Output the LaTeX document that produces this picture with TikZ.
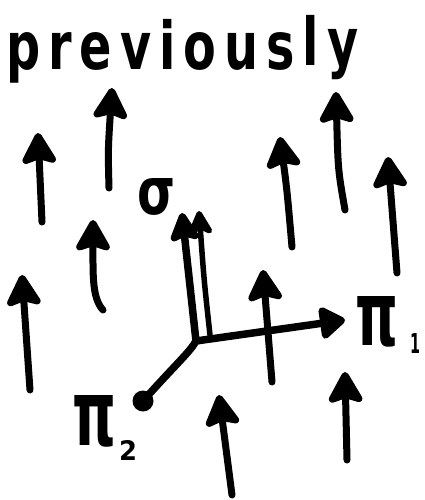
\documentclass[tikz,border=0pt]{standalone}
\usepackage{fontspec}
\setmainfont{DejaVu Sans}
\usetikzlibrary{arrows.meta}
\begin{document}
\begin{tikzpicture}[x=1pt,y=-1pt,
  upar/.style={line width=7pt, line cap=round, -{Stealth[length=36pt,width=40pt,inset=6pt,round]}},
  axis/.style={line width=7.5pt, line cap=round, line join=round},
  lbl/.style={inner sep=0pt, font=\bfseries}]
\useasboundingbox (0,0) rectangle (425,500);
% title
\node[lbl, anchor=base west] (title) at (6,70) {\resizebox{352pt}{\height}{\fontsize{66}{66}\selectfont\bfseries p\,r\,e\,v\,i\,o\,u\,s\,\raisebox{4pt}{l\,y}}};
% free arrows
\coordinate (t1) at (42,222); \coordinate (h1) at (38,133);
\coordinate (t2) at (109,188); \coordinate (h2) at (112,88);
\coordinate (t3) at (30,390); \coordinate (h3) at (22,275);
\coordinate (t4) at (103,310); \coordinate (h4) at (93,220);
\coordinate (t5) at (292,247); \coordinate (h5) at (280,137);
\coordinate (t6) at (345,210); \coordinate (h6) at (336,92);
\coordinate (t7) at (397,273); \coordinate (h7) at (388,157);
\coordinate (t8) at (272,382); \coordinate (h8) at (263,270);
\coordinate (t9) at (232,495); \coordinate (h9) at (219,395);
\coordinate (t10) at (347,460); \coordinate (h10) at (345,372);
\draw[upar] (t1) -- (h1);
\draw[upar] (t2) .. controls (108,150) .. (h2);
\draw[upar] (t3) -- (h3);
\draw[upar] (t4) .. controls (92,298) and (93,275) .. (h4);
\draw[upar] (t5) .. controls (287,190) .. (h5);
\draw[upar] (t6) .. controls (338,170) .. (h6);
\draw[upar] (t7) -- (h7);
\draw[upar] (t9) -- (h9);
\draw[upar] (t10) -- (h10);
% axes
\coordinate (O) at (196,341);
\coordinate (s1) at (182,213);
\coordinate (s2b) at (210,335);
\coordinate (s2) at (199,211);
\coordinate (p1) at (345,320);
\coordinate (p2) at (143,401);
\draw[axis, -{Triangle[length=28pt,width=36pt,round]}] (O) -- (p1);
\draw[axis] (O) .. controls (190,352) and (175,365) .. (p2);
\fill (p2) circle (10.5pt);
\draw[axis, -{Stealth[length=34pt,width=34pt,inset=6pt,round]}] (O) -- (s1);
\draw[line width=5.5pt, line cap=round, -{Stealth[length=30pt,width=30pt,inset=8pt,round]}] (s2b) .. controls (204,280) .. (s2);
\draw[upar] (t8) -- (h8);
% labels
\node[lbl] (sigma) at (157,197) {\resizebox{38pt}{36pt}{σ}};
\node[lbl] (pi1) at (377,322) {\resizebox{43pt}{49pt}{π}};
\node[lbl] (one) at (415,343) {\resizebox{10pt}{20pt}{1}};
\node[lbl] (pi2) at (94,421) {\resizebox{44pt}{50pt}{π}};
\node[lbl] (two) at (128,450) {\resizebox{18pt}{20pt}{2}};
\end{tikzpicture}
\end{document}
